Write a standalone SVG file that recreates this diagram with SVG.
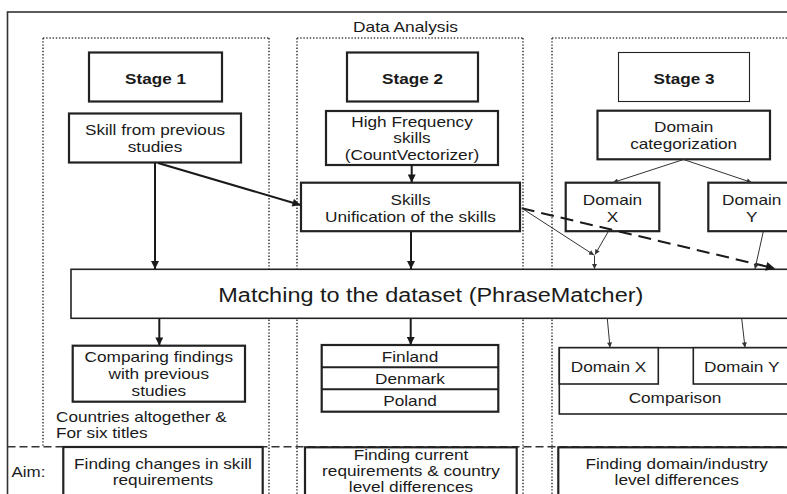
<svg xmlns="http://www.w3.org/2000/svg" width="787" height="494" viewBox="0 0 787 494">
<defs>
<style>
text{font-family:"Liberation Sans",Arial,sans-serif;fill:#1a1a1a;font-size:15px}
.c{text-anchor:middle}
.b{font-weight:bold}
.box{fill:#fff;stroke:#222;stroke-width:1.6}
.thick{fill:#fff;stroke:#222;stroke-width:2.2}
.thin{fill:#fff;stroke:#222;stroke-width:1.1}
.dot{fill:none;stroke:#444;stroke-width:1.6;stroke-dasharray:1.4 1.8}
.con{fill:none;stroke:#1a1a1a;stroke-width:2}
.con1{fill:none;stroke:#333;stroke-width:1}
.dash{fill:none;stroke:#1a1a1a;stroke-width:2;stroke-dasharray:13 7}
</style>
<marker id="ah" viewBox="0 0 10 10" refX="10" refY="5" markerWidth="9" markerHeight="8" markerUnits="userSpaceOnUse" orient="auto"><path d="M0,0 L10,5 L0,10 z" fill="#1a1a1a"/></marker>
<marker id="ahs" viewBox="0 0 10 10" refX="10" refY="5" markerWidth="6" markerHeight="5" markerUnits="userSpaceOnUse" orient="auto"><path d="M0,0 L10,5 L0,10 z" fill="#333"/></marker>
<marker id="ahd" viewBox="0 0 10 10" refX="10" refY="5" markerWidth="12" markerHeight="9" markerUnits="userSpaceOnUse" orient="auto"><path d="M0,0 L10,5 L0,10 z" fill="#1a1a1a"/></marker>
</defs>
<rect x="0" y="0" width="787" height="494" fill="#fff"/>

<g id="frame">
<rect x="7.5" y="12" width="800" height="500" fill="none" stroke="#333" stroke-width="1.6"/>
<text class="c" x="405.5" y="32" textLength="105" lengthAdjust="spacingAndGlyphs">Data Analysis</text>
<path class="dot" d="M43,38 H269 M43,38 V446 M269,38 V494"/>
<path class="dot" d="M297,38 H523 M297,38 V494 M523,38 V494"/>
<path class="dot" d="M552,38 H790 M552,38 V494"/>
<path d="M7.5,446.7 H790" fill="none" stroke="#333" stroke-width="1.6" stroke-dasharray="8 4"/>
<text x="11.5" y="476.7" textLength="34" lengthAdjust="spacingAndGlyphs">Aim:</text>
</g>

<g id="stage1">
<rect class="thick" x="89" y="52.5" width="133" height="49"/>
<text class="c b" x="155.5" y="83.5" textLength="61" lengthAdjust="spacingAndGlyphs">Stage 1</text>
</g>
<g id="stage2">
<rect class="thick" x="347" y="52.5" width="131" height="49"/>
<text class="c b" x="412.5" y="83.5" textLength="61" lengthAdjust="spacingAndGlyphs">Stage 2</text>
</g>
<g id="stage3">
<rect class="thin" x="618.5" y="52.5" width="131" height="49"/>
<text class="c b" x="684" y="83.5" textLength="61" lengthAdjust="spacingAndGlyphs">Stage 3</text>
</g>

<g id="skill-prev">
<rect class="thick" x="69" y="113.5" width="172" height="49"/>
<text class="c" x="155" y="135" textLength="140" lengthAdjust="spacingAndGlyphs">Skill from previous</text>
<text class="c" x="155" y="152" textLength="54.5" lengthAdjust="spacingAndGlyphs">studies</text>
</g>

<g id="high-freq">
<rect class="thick" x="326" y="111" width="172" height="54"/>
<text class="c" x="412" y="126.7" textLength="121.5" lengthAdjust="spacingAndGlyphs">High Frequency</text>
<text class="c" x="412" y="142.5" textLength="37.3" lengthAdjust="spacingAndGlyphs">skills</text>
<text class="c" x="412" y="160" textLength="134.5" lengthAdjust="spacingAndGlyphs">(CountVectorizer)</text>
</g>

<g id="skills">
<rect class="thick" x="301" y="182.7" width="219" height="48.5"/>
<text class="c" x="410.5" y="205" textLength="40" lengthAdjust="spacingAndGlyphs">Skills</text>
<text class="c" x="410.5" y="221.5" textLength="171" lengthAdjust="spacingAndGlyphs">Unification of the skills</text>
</g>

<g id="domain-cat">
<rect class="thick" x="597.5" y="110.7" width="172.5" height="48.6"/>
<text class="c" x="683.7" y="132.3" textLength="59.3" lengthAdjust="spacingAndGlyphs">Domain</text>
<text class="c" x="683.7" y="149" textLength="107" lengthAdjust="spacingAndGlyphs">categorization</text>
</g>

<g id="domain-x">
<rect class="thick" x="565.7" y="182.7" width="93.6" height="48.5"/>
<text class="c" x="612.5" y="205" textLength="59.3" lengthAdjust="spacingAndGlyphs">Domain</text>
<text class="c" x="612.5" y="221.5" textLength="11.5" lengthAdjust="spacingAndGlyphs">X</text>
</g>

<g id="domain-y">
<rect class="thick" x="708.3" y="182.7" width="87" height="48.5"/>
<text class="c" x="751.7" y="205" textLength="59.3" lengthAdjust="spacingAndGlyphs">Domain</text>
<text class="c" x="751.7" y="221.5" textLength="11.5" lengthAdjust="spacingAndGlyphs">Y</text>
</g>

<g id="matching">
<rect class="box" x="71" y="269.3" width="730" height="49"/>
<text x="218.3" y="301.5" style="font-size:20px" textLength="425" lengthAdjust="spacingAndGlyphs">Matching to the dataset (PhraseMatcher)</text>
</g>

<g id="comparing">
<rect class="thick" x="72.7" y="345.7" width="172.3" height="56"/>
<text class="c" x="158.8" y="362.3" textLength="148.5" lengthAdjust="spacingAndGlyphs">Comparing findings</text>
<text class="c" x="158.8" y="379" textLength="100.4" lengthAdjust="spacingAndGlyphs">with previous</text>
<text class="c" x="158.8" y="395.7" textLength="54.5" lengthAdjust="spacingAndGlyphs">studies</text>
</g>

<g id="countries-note">
<text x="56" y="421.7" textLength="170.7" lengthAdjust="spacingAndGlyphs">Countries altogether &amp;</text>
<text x="56" y="438.3" textLength="91.7" lengthAdjust="spacingAndGlyphs">For six titles</text>
</g>

<g id="countries">
<rect class="thick" x="321.7" y="345" width="176.6" height="66.7"/>
<path d="M321.7,367.3 H498.3 M321.7,389.3 H498.3" stroke="#222" stroke-width="2" fill="none"/>
<text class="c" x="410" y="361.7" textLength="56.4" lengthAdjust="spacingAndGlyphs">Finland</text>
<text class="c" x="410" y="384" textLength="69.8" lengthAdjust="spacingAndGlyphs">Denmark</text>
<text class="c" x="410" y="406" textLength="53.5" lengthAdjust="spacingAndGlyphs">Poland</text>
</g>

<g id="domain-comparison">
<rect class="box" x="559.3" y="347.7" width="232" height="66.3"/>
<rect class="box" x="559.3" y="347.7" width="99" height="36.3"/>
<rect class="box" x="693.3" y="347.7" width="98" height="36.3"/>
<text class="c" x="608.5" y="372.3" textLength="75.5" lengthAdjust="spacingAndGlyphs">Domain X</text>
<text class="c" x="741.7" y="372.3" textLength="75.5" lengthAdjust="spacingAndGlyphs">Domain Y</text>
<text class="c" x="675" y="403.3" textLength="92.7" lengthAdjust="spacingAndGlyphs">Comparison</text>
</g>

<g id="aim1">
<rect class="thick" x="63.3" y="447" width="199.4" height="60"/>
<text class="c" x="163" y="468.5" textLength="177.8" lengthAdjust="spacingAndGlyphs">Finding changes in skill</text>
<text class="c" x="163" y="485" textLength="100.4" lengthAdjust="spacingAndGlyphs">requirements</text>
</g>
<g id="aim2">
<rect class="thick" x="305" y="447.3" width="211.7" height="60"/>
<text class="c" x="411" y="460.2" textLength="114.7" lengthAdjust="spacingAndGlyphs">Finding current</text>
<text class="c" x="411" y="476.4" textLength="177.8" lengthAdjust="spacingAndGlyphs">requirements &amp; country</text>
<text class="c" x="411" y="492" textLength="124.3" lengthAdjust="spacingAndGlyphs">level differences</text>
</g>
<g id="aim3">
<rect class="thick" x="558.3" y="447.3" width="240" height="60"/>
<text class="c" x="676.7" y="468.5" textLength="182.6" lengthAdjust="spacingAndGlyphs">Finding domain/industry</text>
<text class="c" x="676.7" y="485" textLength="124.3" lengthAdjust="spacingAndGlyphs">level differences</text>
</g>

<g id="connectors">
<path class="con" d="M155,162.5 V269" marker-end="url(#ah)"/>
<path class="con" d="M158,163 L300.5,205" marker-end="url(#ah)"/>
<path class="con" d="M411.7,165 V182.5" marker-end="url(#ah)"/>
<path class="con" d="M411,231.2 V269" marker-end="url(#ah)"/>
<path class="dash" d="M521.7,208.3 L775,268.5" marker-end="url(#ahd)"/>
<path class="con1" d="M523,209 L594,255" marker-end="url(#ahs)"/>
<path class="con1" d="M608.3,231.5 L595,254.5" marker-end="url(#ahs)"/>
<path class="con1" d="M594.5,255.5 V269" marker-end="url(#ahs)"/>
<path class="con1" d="M763.3,231.5 L755,269" marker-end="url(#ahs)"/>
<path class="con1" d="M683.5,159.5 L613,182.5" marker-end="url(#ahs)"/>
<path class="con1" d="M683.5,159.5 L751.7,182.5" marker-end="url(#ahs)"/>
<path class="con" d="M159.3,318.5 V345.5" marker-end="url(#ah)"/>
<path class="con" d="M410.7,318.5 V345" marker-end="url(#ah)"/>
<path class="con1" d="M607.3,318.5 L610,347.5" marker-end="url(#ahs)"/>
<path class="con1" d="M741.7,318.5 L745,347.5" marker-end="url(#ahs)"/>
</g>
</svg>
